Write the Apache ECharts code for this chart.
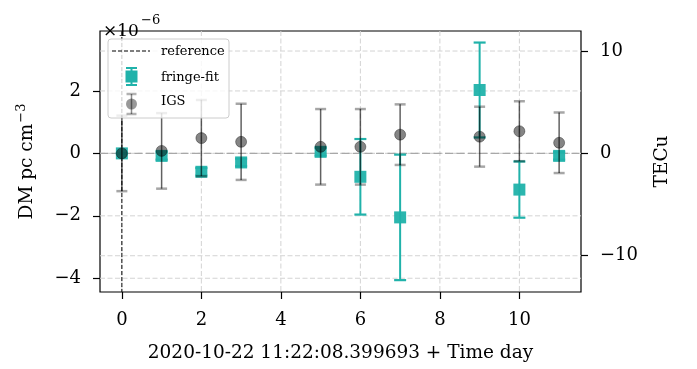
<!DOCTYPE html>
<html>
<head>
<meta charset="utf-8">
<script src="https://cdn.jsdelivr.net/npm/echarts@6/dist/echarts.min.js"></script>
<style>
  html, body { margin: 0; padding: 0; background: #fff; }
  #chart { width: 697px; height: 369px; }
</style>
</head>
<body>
<div id="chart"></div>
<script>
// Observation epochs (days after 2020-10-22 11:22:08.399693)
const days = [0, 1, 2, 3, 5, 6, 7, 9, 10, 11];

// Fringe-fit dispersive delay, DM in units of 1e-6 pc cm^-3
const fringeDM  = [0, -0.08, -0.59, -0.29, 0.05, -0.75, -2.05, 2.03, -1.16, -0.08];
const fringeErr = [0, 0.12, 0.12, 0.12, 0.12, 1.21, 2.01, 1.52, 0.90, 0.12];

// IGS ionosphere model prediction, same units
const igsDM  = [0, 0.08, 0.49, 0.37, 0.21, 0.21, 0.60, 0.535, 0.71, 0.34];
const igsErr = [1.21, 1.21, 1.22, 1.22, 1.21, 1.21, 0.97, 0.96, 0.96, 0.97];

// Axis ticks
const dayTicks = [0, 2, 4, 6, 8, 10];
const dmTicks  = [-4, -2, 0, 2];
const tecTicks = [-10, 0, 10];

const referenceDay = 0;
const dmRange = [-4.44, 3.92];
const dayRange = [-0.55, 11.55];
const tecPerDM = 3.05;   // TECu per 1e-6 pc cm^-3

const TEAL = '#20b2aa';
const FONT = 'DejaVu Serif';
const fmt = v => (v < 0 ? '\u2212' + Math.abs(v) : String(v));

function errorBarRenderer(lineColor, capColor, half, lineWidth, capWidth) {
  return function (params, api) {
    const x = api.value(0), y = api.value(1), e = api.value(2);
    const top = api.coord([x, y + e]);
    const bot = api.coord([x, y - e]);
    return {
      type: 'group',
      children: [
        { type: 'line', shape: { x1: top[0], y1: top[1], x2: bot[0], y2: bot[1] },
          style: { stroke: lineColor, lineWidth: lineWidth } },
        { type: 'line', shape: { x1: top[0] - half, y1: top[1], x2: top[0] + half, y2: top[1] },
          style: { stroke: capColor, lineWidth: capWidth } },
        { type: 'line', shape: { x1: bot[0] - half, y1: bot[1], x2: bot[0] + half, y2: bot[1] },
          style: { stroke: capColor, lineWidth: capWidth } }
      ]
    };
  };
}

function hLine(color, dash, width) {
  return function (params, api) {
    const cs = params.coordSys;
    const y = api.coord([0, api.value(1)])[1];
    return { type: 'line', shape: { x1: cs.x, y1: y, x2: cs.x + cs.width, y2: y },
             style: { stroke: color, lineWidth: width, lineDash: dash } };
  };
}

function vLine(color, dash, width) {
  return function (params, api) {
    const cs = params.coordSys;
    const x = api.coord([api.value(0), 0])[0];
    return { type: 'line', shape: { x1: x, y1: cs.y, x2: x, y2: cs.y + cs.height },
             style: { stroke: color, lineWidth: width, lineDash: dash } };
  };
}

const labelStyle = { fontFamily: FONT, fontSize: 18, color: '#000' };
const tickStyle = { show: true, length: 7, lineStyle: { color: '#000', width: 1.2 } };

const option = {
  animation: false,
  backgroundColor: '#fff',
  grid: {
    left: 100, top: 31, right: 116, bottom: 77,
    show: true, borderColor: '#000', borderWidth: 1.2, backgroundColor: 'rgba(0,0,0,0)'
  },
  xAxis: {
    type: 'value', min: dayRange[0], max: dayRange[1],
    axisLine: { show: false, onZero: false },
    axisTick: Object.assign({ customValues: dayTicks }, tickStyle),
    axisLabel: Object.assign({ customValues: dayTicks, margin: 19, formatter: fmt }, labelStyle),
    splitLine: { show: false },
    name: '2020-10-22 11:22:08.399693 + Time day',
    nameLocation: 'middle', nameGap: 52,
    nameTextStyle: { fontFamily: FONT, fontSize: 18.5, color: '#000' }
  },
  yAxis: [
    {
      type: 'value', position: 'left', min: dmRange[0], max: dmRange[1],
      axisLine: { show: false, onZero: false },
      axisTick: Object.assign({ customValues: dmTicks }, tickStyle),
      axisLabel: Object.assign({ customValues: dmTicks, margin: 19, formatter: fmt }, labelStyle),
      splitLine: { show: false },
      name: '{a|DM pc cm}{s|\u22123}',
      nameLocation: 'middle', nameGap: 61, nameRotate: 90,
      nameTextStyle: {
        fontFamily: FONT, color: '#000',
        rich: {
          a: { fontFamily: FONT, fontSize: 18.5, color: '#000', lineHeight: 24 },
          s: { fontFamily: FONT, fontSize: 13, color: '#000', verticalAlign: 'top', lineHeight: 24, padding: [0, 0, 10, 1] }
        }
      }
    },
    {
      type: 'value', position: 'right',
      min: dmRange[0] * tecPerDM, max: dmRange[1] * tecPerDM,
      axisLine: { show: false, onZero: false },
      axisTick: Object.assign({ customValues: tecTicks }, tickStyle),
      axisLabel: Object.assign({ customValues: tecTicks, margin: 19, formatter: fmt }, labelStyle),
      splitLine: { show: false },
      name: 'TECu',
      nameLocation: 'middle', nameGap: 72, nameRotate: 90,
      nameTextStyle: { fontFamily: FONT, fontSize: 18.5, color: '#000' }
    }
  ],
  series: [
    { type: 'custom', name: 'day grid', z: 1, silent: true,
      data: dayTicks.map(d => [d, 0]), renderItem: vLine('#d3d3d3', [5, 2.5], 1) },
    { type: 'custom', name: 'DM grid', z: 1, silent: true, yAxisIndex: 0,
      data: dmTicks.map(v => [0, v]), renderItem: hLine('#d3d3d3', [5, 2.5], 1) },
    { type: 'custom', name: 'TEC grid', z: 1, silent: true, yAxisIndex: 1,
      data: tecTicks.map(v => [0, v]), renderItem: hLine('#d3d3d3', [5, 2.5], 1) },
    { type: 'custom', name: 'zero', z: 2, silent: true, yAxisIndex: 0,
      data: [[0, 0]], renderItem: hLine('#a8a8a8', [8, 3.5], 1.3) },
    { type: 'custom', name: 'reference', z: 3, silent: true,
      data: [[referenceDay, 0]], renderItem: vLine('#000', [4, 2], 1) },
    { type: 'custom', name: 'fringe-fit err', z: 4, silent: true,
      data: days.map((d, i) => [d, fringeDM[i], fringeErr[i]]),
      renderItem: errorBarRenderer(TEAL, TEAL, 6, 2, 2.2) },
    { type: 'scatter', name: 'fringe-fit', z: 5, silent: true,
      symbol: 'rect', symbolSize: 12,
      itemStyle: { color: TEAL, opacity: 0.95 },
      data: days.map((d, i) => [d, fringeDM[i]]) },
    { type: 'custom', name: 'IGS err', z: 6, silent: true,
      data: days.map((d, i) => [d, igsDM[i], igsErr[i]]),
      renderItem: errorBarRenderer('rgba(0,0,0,0.62)', 'rgba(0,0,0,0.35)', 5.5, 1.5, 2.5) },
    { type: 'scatter', name: 'IGS', z: 7, silent: true,
      symbol: 'circle', symbolSize: 11,
      itemStyle: { color: 'rgba(0,0,0,0.6)', borderColor: 'rgba(0,0,0,0.45)', borderWidth: 1 },
      data: days.map((d, i) => [d, igsDM[i]]) }
  ],
  graphic: [
    // scale factor above the left axis
    { type: 'text', z: 20, style: { text: '\u00d710', x: 103, y: 23, fontFamily: FONT, fontSize: 17, fill: '#000', verticalAlign: 'alphabetic' } },
    { type: 'text', z: 20, style: { text: '\u22126', x: 141, y: 14, fontFamily: FONT, fontSize: 13, fill: '#000', verticalAlign: 'alphabetic' } },
    // legend
    { type: 'rect', z: 20, shape: { x: 108, y: 39, width: 121, height: 79, r: 3 },
      style: { fill: 'rgba(255,255,255,0.8)', stroke: '#cccccc', lineWidth: 1 } },
    { type: 'line', z: 21, shape: { x1: 112, y1: 51, x2: 150, y2: 51 },
      style: { stroke: '#000', lineWidth: 1, lineDash: [4, 2] } },
    { type: 'text', z: 21, style: { text: 'reference', x: 161, y: 52, fontFamily: FONT, fontSize: 13, fill: '#000', verticalAlign: 'middle' } },
    { type: 'line', z: 21, shape: { x1: 131.5, y1: 68, x2: 131.5, y2: 85 }, style: { stroke: TEAL, lineWidth: 2 } },
    { type: 'line', z: 21, shape: { x1: 126, y1: 68, x2: 137, y2: 68 }, style: { stroke: TEAL, lineWidth: 2 } },
    { type: 'line', z: 21, shape: { x1: 126, y1: 85, x2: 137, y2: 85 }, style: { stroke: TEAL, lineWidth: 2 } },
    { type: 'rect', z: 21, shape: { x: 125.5, y: 70.5, width: 12, height: 12 }, style: { fill: TEAL } },
    { type: 'text', z: 21, style: { text: 'fringe-fit', x: 161, y: 78, fontFamily: FONT, fontSize: 13, fill: '#000', verticalAlign: 'middle' } },
    { type: 'line', z: 21, shape: { x1: 131.5, y1: 94, x2: 131.5, y2: 114 }, style: { stroke: 'rgba(0,0,0,0.45)', lineWidth: 1.5 } },
    { type: 'line', z: 21, shape: { x1: 126.5, y1: 94, x2: 136.5, y2: 94 }, style: { stroke: 'rgba(0,0,0,0.3)', lineWidth: 2.5 } },
    { type: 'line', z: 21, shape: { x1: 126.5, y1: 114, x2: 136.5, y2: 114 }, style: { stroke: 'rgba(0,0,0,0.3)', lineWidth: 2.5 } },
    { type: 'circle', z: 21, shape: { cx: 131.5, cy: 104, r: 5.5 }, style: { fill: 'rgba(0,0,0,0.4)' } },
    { type: 'text', z: 21, style: { text: 'IGS', x: 161, y: 102, fontFamily: FONT, fontSize: 13, fill: '#000', verticalAlign: 'middle' } }
  ]
};

const chart = echarts.init(document.getElementById('chart'), null, { renderer: 'canvas' });
chart.setOption(option);
</script>
</body>
</html>
